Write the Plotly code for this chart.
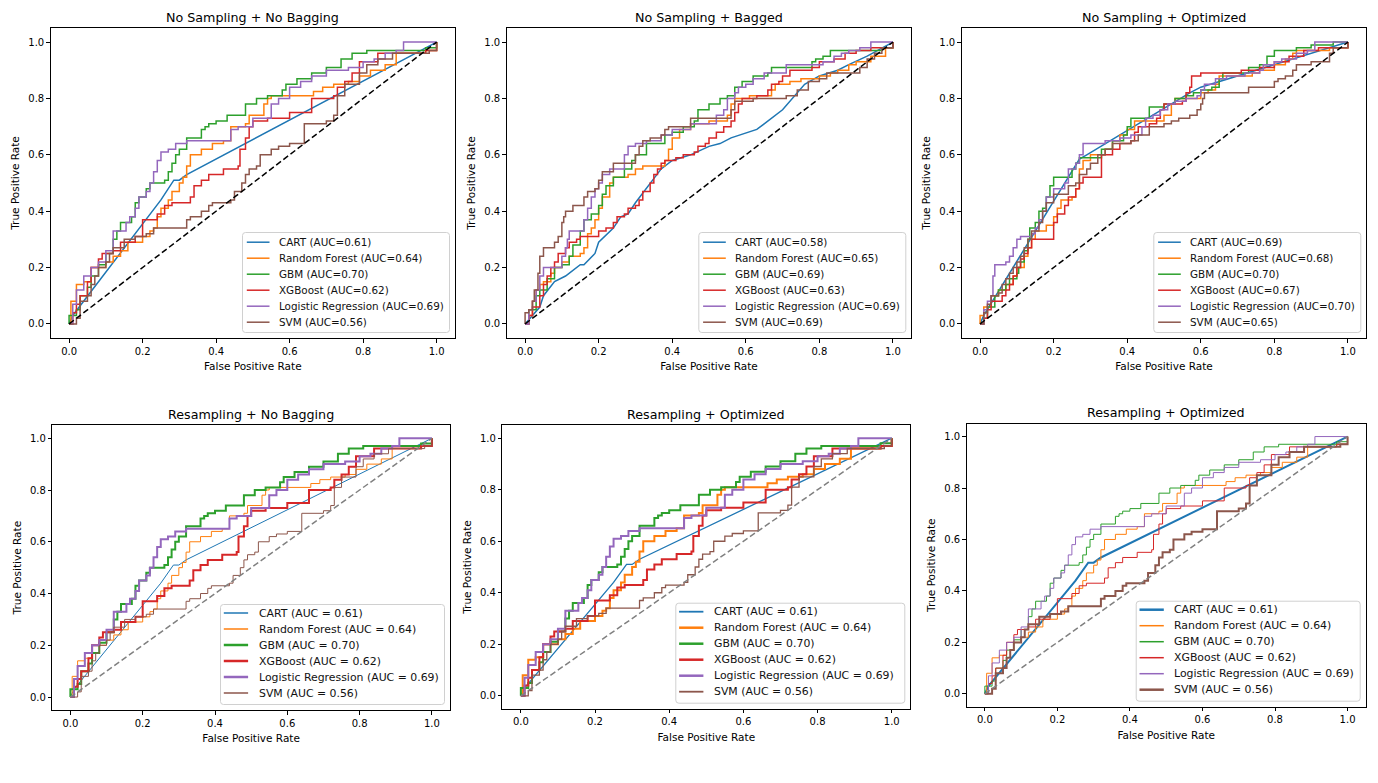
import plotly.graph_objects as go
from plotly.subplots import make_subplots

# ---------------- data ----------------
models = ["CART", "Random Forest", "GBM", "XGBoost", "Logistic Regression", "SVM"]
panel_titles = ["No Sampling + No Bagging", "No Sampling + Bagged", "No Sampling + Optimized",
                "Resampling + No Bagging", "Resampling + Optimized", "Resampling + Optimized"]
auc_nosamp_nobag = [0.61, 0.64, 0.70, 0.62, 0.69, 0.56]
auc_nosamp_bagged = [0.58, 0.65, 0.69, 0.63, 0.69, 0.69]
auc_nosamp_opt = [0.69, 0.68, 0.70, 0.67, 0.70, 0.65]
auc_resamp_nobag = [0.61, 0.64, 0.70, 0.62, 0.69, 0.56]
auc_resamp_opt_a = [0.61, 0.64, 0.70, 0.62, 0.69, 0.56]
auc_resamp_opt_b = [0.61, 0.64, 0.70, 0.62, 0.69, 0.56]
tick_vals = [0.0, 0.2, 0.4, 0.6, 0.8, 1.0]
tick_labels = ["0.0", "0.2", "0.4", "0.6", "0.8", "1.0"]

# Panel 1: No Sampling + No Bagging (curves reused by the resampling panels)
p1_cart_fpr = [0, 0.01, 0.25, 0.26, 0.285, 0.30, 0.32, 1.0]
p1_cart_tpr = [0, 0.03, 0.44, 0.46, 0.51, 0.51, 0.53, 1.0]
p1_rf_fpr = [0, 0.005, 0.02, 0.04, 0.06, 0.1, 0.12, 0.14, 0.16, 0.2, 0.22, 0.23, 0.24, 0.25, 0.27, 0.28, 0.30, 0.31, 0.32, 0.33,
             0.36, 0.39, 0.42, 0.44, 0.48, 0.49, 0.53, 0.54, 0.55, 0.665, 0.69, 0.72, 0.76, 0.79, 0.82, 0.86, 0.89, 0.97, 1.0]
p1_rf_tpr = [0, 0.08, 0.14, 0.15, 0.20, 0.22, 0.24, 0.26, 0.29, 0.31, 0.33, 0.34, 0.38, 0.41, 0.44, 0.47, 0.50, 0.52, 0.56, 0.60,
             0.62, 0.64, 0.65, 0.70, 0.71, 0.74, 0.78, 0.80, 0.81, 0.825, 0.84, 0.85, 0.86, 0.88, 0.90, 0.92, 0.96, 0.97, 1.0]
p1_gbm_fpr = [0, 0.0, 0.02, 0.03, 0.05, 0.06, 0.08, 0.1, 0.12, 0.13, 0.14, 0.17, 0.18, 0.19, 0.21, 0.22, 0.26, 0.27, 0.28, 0.29,
              0.30, 0.32, 0.36, 0.37, 0.38, 0.40, 0.43, 0.48, 0.51, 0.54, 0.58, 0.59, 0.62, 0.66, 0.70, 0.74, 0.77, 0.81, 0.97, 1.0]
p1_gbm_tpr = [0, 0.03, 0.05, 0.10, 0.13, 0.17, 0.21, 0.25, 0.30, 0.33, 0.36, 0.38, 0.43, 0.45, 0.48, 0.50, 0.51, 0.54, 0.57, 0.60,
              0.62, 0.66, 0.69, 0.70, 0.71, 0.72, 0.74, 0.78, 0.80, 0.81, 0.83, 0.85, 0.87, 0.89, 0.91, 0.94, 0.96, 0.97, 0.98, 1.0]
p1_xgb_fpr = [0, 0.01, 0.02, 0.03, 0.05, 0.06, 0.08, 0.09, 0.12, 0.14, 0.18, 0.20, 0.24, 0.26, 0.28, 0.33, 0.34, 0.36, 0.38, 0.42,
              0.46, 0.465, 0.48, 0.49, 0.50, 0.54, 0.60, 0.66, 0.72, 0.73, 0.75, 0.77, 0.79, 0.84, 0.97, 1.0]
p1_xgb_tpr = [0, 0.04, 0.07, 0.10, 0.15, 0.20, 0.23, 0.25, 0.26, 0.29, 0.31, 0.37, 0.39, 0.42, 0.43, 0.45, 0.49, 0.51, 0.53, 0.55,
              0.56, 0.62, 0.66, 0.70, 0.72, 0.73, 0.75, 0.80, 0.81, 0.84, 0.86, 0.89, 0.93, 0.96, 0.97, 1.0]
p1_lr_fpr = [0, 0.01, 0.02, 0.04, 0.06, 0.08, 0.1, 0.12, 0.155, 0.165, 0.18, 0.19, 0.21, 0.22, 0.23, 0.24, 0.25, 0.27, 0.29, 0.32,
             0.44, 0.46, 0.50, 0.55, 0.57, 0.60, 0.63, 0.66, 0.70, 0.76, 0.80, 0.83, 0.86, 0.89, 0.91, 1.0]
p1_lr_tpr = [0, 0.07, 0.12, 0.17, 0.20, 0.22, 0.26, 0.33, 0.36, 0.38, 0.41, 0.45, 0.47, 0.50, 0.54, 0.58, 0.61, 0.62, 0.64, 0.65,
             0.69, 0.70, 0.73, 0.78, 0.80, 0.84, 0.86, 0.88, 0.90, 0.91, 0.93, 0.94, 0.96, 0.97, 1.0, 1.0]
p1_svm_fpr = [0, 0.01, 0.02, 0.03, 0.05, 0.06, 0.07, 0.08, 0.10, 0.11, 0.12, 0.15, 0.18, 0.21, 0.23, 0.32, 0.33, 0.36, 0.38, 0.39,
              0.44, 0.45, 0.47, 0.48, 0.49, 0.51, 0.52, 0.55, 0.57, 0.60, 0.64, 0.70, 0.72, 0.73, 0.75, 0.79, 0.81, 0.84, 0.88, 0.98, 1.0]
p1_svm_tpr = [0, 0.0, 0.02, 0.08, 0.10, 0.14, 0.17, 0.20, 0.22, 0.25, 0.27, 0.30, 0.31, 0.32, 0.34, 0.37, 0.38, 0.40, 0.42, 0.43,
              0.44, 0.47, 0.50, 0.53, 0.55, 0.56, 0.60, 0.62, 0.63, 0.64, 0.71, 0.72, 0.74, 0.81, 0.85, 0.89, 0.92, 0.94, 0.96, 0.97, 1.0]

# Panel 2: No Sampling + Bagged
p2_cart_fpr = [0, 0.02, 0.04, 0.05, 0.08, 0.11, 0.15, 0.16, 0.19, 0.20, 0.24, 0.26, 0.28, 0.30, 0.34, 0.37, 0.40, 0.45, 0.50, 0.53,
               0.56, 0.61, 0.63, 0.65, 0.70, 0.76, 0.80, 0.85, 0.88, 0.93, 1.0]
p2_cart_tpr = [0, 0.03, 0.06, 0.10, 0.15, 0.17, 0.21, 0.21, 0.25, 0.29, 0.34, 0.38, 0.39, 0.43, 0.50, 0.55, 0.58, 0.60, 0.63, 0.64,
               0.66, 0.68, 0.69, 0.71, 0.76, 0.85, 0.88, 0.90, 0.92, 0.95, 1.0]
p2_rf_fpr = [0, 0.01, 0.02, 0.03, 0.04, 0.05, 0.07, 0.08, 0.10, 0.12, 0.15, 0.16, 0.17, 0.18, 0.19, 0.20, 0.21, 0.23, 0.24, 0.28,
             0.30, 0.32, 0.38, 0.39, 0.40, 0.42, 0.45, 0.50, 0.55, 0.56, 0.57, 0.61, 0.67, 0.68, 0.72, 0.75, 0.80, 0.83, 0.85, 0.88,
             0.90, 0.94, 0.98, 1.0]
p2_rf_tpr = [0, 0.03, 0.08, 0.12, 0.14, 0.15, 0.18, 0.20, 0.22, 0.24, 0.25, 0.27, 0.32, 0.34, 0.37, 0.41, 0.45, 0.50, 0.52, 0.53,
             0.55, 0.56, 0.58, 0.62, 0.66, 0.69, 0.71, 0.72, 0.74, 0.78, 0.80, 0.81, 0.83, 0.85, 0.86, 0.87, 0.88, 0.89, 0.90, 0.92,
             0.93, 0.95, 0.98, 1.0]
p2_gbm_fpr = [0, 0.01, 0.03, 0.04, 0.06, 0.08, 0.10, 0.12, 0.13, 0.15, 0.16, 0.18, 0.20, 0.21, 0.22, 0.24, 0.27, 0.29, 0.30, 0.33,
              0.38, 0.40, 0.43, 0.46, 0.47, 0.50, 0.53, 0.55, 0.57, 0.59, 0.62, 0.66, 0.67, 0.78, 0.79, 0.81, 0.83, 0.97, 1.0]
p2_gbm_tpr = [0, 0.05, 0.10, 0.12, 0.16, 0.20, 0.21, 0.24, 0.28, 0.33, 0.37, 0.39, 0.42, 0.46, 0.49, 0.52, 0.55, 0.58, 0.60, 0.64,
              0.67, 0.68, 0.70, 0.72, 0.76, 0.78, 0.80, 0.81, 0.84, 0.86, 0.88, 0.89, 0.91, 0.93, 0.94, 0.95, 0.97, 0.98, 1.0]
p2_xgb_fpr = [0, 0.01, 0.02, 0.04, 0.05, 0.06, 0.07, 0.08, 0.09, 0.11, 0.12, 0.14, 0.15, 0.20, 0.22, 0.24, 0.25, 0.27, 0.28, 0.30,
              0.31, 0.32, 0.34, 0.35, 0.36, 0.37, 0.38, 0.41, 0.43, 0.46, 0.47, 0.49, 0.50, 0.52, 0.54, 0.56, 0.57, 0.58, 0.59, 0.63,
              0.66, 0.67, 0.69, 0.70, 0.72, 0.78, 0.80, 0.84, 0.87, 0.90, 0.94, 1.0]
p2_xgb_tpr = [0, 0.03, 0.06, 0.10, 0.14, 0.17, 0.20, 0.22, 0.25, 0.27, 0.29, 0.30, 0.31, 0.33, 0.34, 0.36, 0.38, 0.39, 0.41, 0.42,
              0.44, 0.47, 0.50, 0.53, 0.55, 0.57, 0.58, 0.59, 0.60, 0.61, 0.63, 0.64, 0.66, 0.68, 0.70, 0.72, 0.75, 0.78, 0.80, 0.81,
              0.83, 0.85, 0.86, 0.88, 0.90, 0.91, 0.93, 0.94, 0.96, 0.97, 0.98, 1.0]
p2_lr_fpr = [0, 0.01, 0.02, 0.03, 0.04, 0.05, 0.10, 0.11, 0.115, 0.12, 0.16, 0.17, 0.18, 0.19, 0.20, 0.21, 0.23, 0.27, 0.28, 0.30,
             0.33, 0.37, 0.40, 0.45, 0.52, 0.54, 0.55, 0.57, 0.58, 0.60, 0.62, 0.65, 0.71, 0.81, 0.84, 0.86, 0.88, 0.91, 0.94, 1.0]
p2_lr_tpr = [0, 0.05, 0.08, 0.12, 0.17, 0.20, 0.24, 0.27, 0.30, 0.33, 0.37, 0.41, 0.45, 0.48, 0.50, 0.53, 0.55, 0.60, 0.63, 0.64,
             0.65, 0.67, 0.69, 0.71, 0.74, 0.76, 0.80, 0.82, 0.84, 0.85, 0.87, 0.89, 0.92, 0.93, 0.95, 0.96, 0.97, 0.98, 1.0, 1.0]
p2_svm_fpr = [0, 0.0, 0.01, 0.02, 0.025, 0.035, 0.04, 0.05, 0.08, 0.09, 0.10, 0.105, 0.11, 0.13, 0.16, 0.17, 0.19, 0.20, 0.21, 0.24,
              0.30, 0.31, 0.32, 0.34, 0.37, 0.38, 0.39, 0.45, 0.56, 0.57, 0.62, 0.71, 0.74, 0.77, 0.80, 0.82, 0.91, 0.93, 0.95, 0.97, 1.0]
p2_svm_tpr = [0, 0.04, 0.05, 0.08, 0.12, 0.18, 0.24, 0.27, 0.29, 0.31, 0.36, 0.38, 0.40, 0.42, 0.45, 0.47, 0.48, 0.51, 0.54, 0.57,
              0.60, 0.63, 0.65, 0.66, 0.67, 0.69, 0.70, 0.73, 0.76, 0.79, 0.80, 0.81, 0.83, 0.86, 0.87, 0.89, 0.91, 0.94, 0.96, 0.98, 1.0]

# Panel 3: No Sampling + Optimized
p3_cart_fpr = [0, 0.01, 0.27, 0.29, 0.57, 0.60, 1.0]
p3_cart_tpr = [0, 0.03, 0.585, 0.60, 0.82, 0.84, 1.0]
p3_rf_fpr = [0, 0.0, 0.01, 0.03, 0.05, 0.07, 0.09, 0.10, 0.12, 0.13, 0.14, 0.15, 0.18, 0.20, 0.21, 0.22, 0.25, 0.26, 0.27, 0.28,
             0.30, 0.33, 0.34, 0.36, 0.38, 0.40, 0.42, 0.47, 0.50, 0.52, 0.53, 0.58, 0.60, 0.62, 0.64, 0.65, 0.73, 0.74, 0.76, 0.80,
             0.83, 0.85, 0.86, 0.95, 1.0]
p3_rf_tpr = [0, 0.03, 0.06, 0.10, 0.12, 0.14, 0.17, 0.20, 0.24, 0.27, 0.30, 0.33, 0.35, 0.38, 0.41, 0.44, 0.45, 0.48, 0.55, 0.58,
             0.60, 0.60, 0.62, 0.65, 0.67, 0.69, 0.72, 0.72, 0.74, 0.78, 0.80, 0.80, 0.82, 0.83, 0.85, 0.88, 0.88, 0.89, 0.90, 0.92,
             0.94, 0.96, 0.97, 0.98, 1.0]
p3_gbm_fpr = [0, 0.01, 0.02, 0.04, 0.05, 0.07, 0.08, 0.10, 0.105, 0.11, 0.12, 0.13, 0.135, 0.15, 0.16, 0.17, 0.18, 0.19, 0.20, 0.25,
              0.26, 0.27, 0.33, 0.36, 0.39, 0.40, 0.41, 0.46, 0.50, 0.53, 0.56, 0.58, 0.60, 0.63, 0.65, 0.66, 0.73, 0.76, 0.78, 0.80,
              0.86, 0.90, 0.96, 1.0]
p3_gbm_tpr = [0, 0.02, 0.06, 0.10, 0.12, 0.14, 0.16, 0.18, 0.20, 0.22, 0.26, 0.30, 0.34, 0.36, 0.40, 0.41, 0.45, 0.49, 0.52, 0.55,
              0.57, 0.59, 0.62, 0.65, 0.67, 0.70, 0.73, 0.77, 0.78, 0.80, 0.81, 0.82, 0.83, 0.84, 0.87, 0.89, 0.91, 0.92, 0.95, 0.97,
              0.98, 0.99, 1.0, 1.0]
p3_xgb_fpr = [0, 0.01, 0.02, 0.03, 0.06, 0.07, 0.08, 0.09, 0.10, 0.11, 0.12, 0.13, 0.14, 0.19, 0.20, 0.21, 0.23, 0.24, 0.26, 0.27,
              0.28, 0.32, 0.33, 0.36, 0.38, 0.41, 0.42, 0.43, 0.46, 0.48, 0.49, 0.50, 0.55, 0.56, 0.57, 0.575, 0.60, 0.71, 0.76, 0.80,
              0.84, 0.88, 0.92, 0.97, 1.0]
p3_xgb_tpr = [0, 0.02, 0.05, 0.08, 0.10, 0.12, 0.14, 0.17, 0.20, 0.23, 0.25, 0.27, 0.30, 0.30, 0.36, 0.39, 0.42, 0.45, 0.48, 0.50,
              0.52, 0.52, 0.60, 0.62, 0.64, 0.65, 0.68, 0.70, 0.71, 0.73, 0.76, 0.78, 0.79, 0.82, 0.84, 0.88, 0.89, 0.90, 0.91, 0.93,
              0.95, 0.97, 0.98, 0.98, 1.0]
p3_lr_fpr = [0, 0.01, 0.02, 0.03, 0.035, 0.04, 0.07, 0.08, 0.09, 0.10, 0.11, 0.14, 0.15, 0.16, 0.17, 0.18, 0.20, 0.23, 0.24, 0.26,
             0.27, 0.28, 0.34, 0.38, 0.41, 0.44, 0.45, 0.47, 0.49, 0.51, 0.53, 0.56, 0.59, 0.60, 0.61, 0.64, 0.67, 0.72, 0.76, 0.77,
             0.80, 0.82, 0.86, 0.89, 0.91, 1.0]
p3_lr_tpr = [0, 0.05, 0.08, 0.10, 0.17, 0.21, 0.22, 0.24, 0.27, 0.30, 0.31, 0.32, 0.34, 0.37, 0.40, 0.45, 0.48, 0.50, 0.55, 0.57,
             0.60, 0.64, 0.65, 0.66, 0.67, 0.70, 0.73, 0.74, 0.76, 0.78, 0.79, 0.80, 0.81, 0.83, 0.85, 0.87, 0.88, 0.89, 0.90, 0.92,
             0.93, 0.94, 0.96, 0.97, 1.0, 1.0]
p3_svm_fpr = [0, 0.01, 0.02, 0.03, 0.05, 0.06, 0.07, 0.08, 0.09, 0.10, 0.11, 0.12, 0.13, 0.14, 0.16, 0.17, 0.18, 0.20, 0.24, 0.26,
              0.27, 0.29, 0.30, 0.32, 0.34, 0.36, 0.41, 0.43, 0.46, 0.50, 0.52, 0.54, 0.57, 0.59, 0.60, 0.605, 0.61, 0.73, 0.80, 0.81,
              0.83, 0.85, 0.86, 0.90, 0.95, 0.96, 1.0]
p3_svm_tpr = [0, 0.04, 0.07, 0.10, 0.11, 0.14, 0.16, 0.18, 0.20, 0.22, 0.24, 0.27, 0.30, 0.33, 0.36, 0.40, 0.43, 0.46, 0.49, 0.50,
              0.53, 0.55, 0.57, 0.60, 0.62, 0.64, 0.65, 0.67, 0.70, 0.71, 0.72, 0.73, 0.74, 0.76, 0.78, 0.80, 0.82, 0.84, 0.86, 0.87,
              0.88, 0.90, 0.92, 0.93, 0.96, 0.98, 1.0]

# ---------------- assemble ----------------
p1_curves = [(p1_cart_fpr, p1_cart_tpr), (p1_rf_fpr, p1_rf_tpr), (p1_gbm_fpr, p1_gbm_tpr),
             (p1_xgb_fpr, p1_xgb_tpr), (p1_lr_fpr, p1_lr_tpr), (p1_svm_fpr, p1_svm_tpr)]
p2_curves = [(p2_cart_fpr, p2_cart_tpr), (p2_rf_fpr, p2_rf_tpr), (p2_gbm_fpr, p2_gbm_tpr),
             (p2_xgb_fpr, p2_xgb_tpr), (p2_lr_fpr, p2_lr_tpr), (p2_svm_fpr, p2_svm_tpr)]
p3_curves = [(p3_cart_fpr, p3_cart_tpr), (p3_rf_fpr, p3_rf_tpr), (p3_gbm_fpr, p3_gbm_tpr),
             (p3_xgb_fpr, p3_xgb_tpr), (p3_lr_fpr, p3_lr_tpr), (p3_svm_fpr, p3_svm_tpr)]
panel_curves = [p1_curves, p2_curves, p3_curves, p1_curves, p1_curves, p1_curves]
panel_aucs = [auc_nosamp_nobag, auc_nosamp_bagged, auc_nosamp_opt,
              auc_resamp_nobag, auc_resamp_opt_a, auc_resamp_opt_b]

COLORS = ["#1f77b4", "#ff7f0e", "#2ca02c", "#d62728", "#9467bd", "#8c564b"]
W, H = 1378, 783
FONT = "DejaVu Sans"

# frame boxes in pixels: (left, right, top, bottom)
boxes = [(50.7, 455.0, 28.0, 338.0), (506.7, 911.3, 28.0, 338.0), (961.7, 1366.3, 28.0, 338.0),
         (52.3, 450.0, 425.3, 710.0), (502.3, 910.3, 425.3, 708.7), (966.7, 1365.7, 423.7, 706.7)]
legend_w = [207, 207, 207, 224, 229, 224]
widths = [[1.5] * 6, [1.5] * 6, [1.5] * 6,
          [1.0, 1.0, 2.0, 2.0, 2.0, 1.0],
          [1.3, 2.0, 2.0, 2.0, 2.0, 1.3],
          [2.0, 1.0, 1.0, 1.0, 1.0, 2.0]]


def px(x):
    return x / W


def py(y):
    return 1 - y / H


fig = make_subplots(rows=2, cols=3)
annotations = []
shapes = []
for p in range(6):
    row, col = p // 3 + 1, p % 3 + 1
    top_row = p < 3
    for m in range(6):
        fpr, tpr = panel_curves[p][m]
        fig.add_trace(go.Scatter(
            x=fpr, y=tpr, mode="lines", showlegend=False, hoverinfo="skip",
            line=dict(color=COLORS[m], width=widths[p][m], shape="linear" if m == 0 else "hv")),
            row=row, col=col)
    fig.add_trace(go.Scatter(
        x=[0, 1], y=[0, 1], mode="lines", showlegend=False, hoverinfo="skip",
        line=dict(color="black" if top_row else "#808080", width=1.5, dash="6px,3px")),
        row=row, col=col)

    l, r, t, b = boxes[p]
    axis_common = dict(range=[-0.05, 1.05], tickvals=tick_vals, ticktext=tick_labels,
                       showline=True, mirror=True, linecolor="black", linewidth=1,
                       ticks="outside", ticklen=3.5, tickwidth=0.8, tickcolor="black",
                       showgrid=False, zeroline=False,
                       tickfont=dict(family=FONT, size=10, color="black"))
    fig.update_xaxes(domain=[px(l), px(r)],
                     title=dict(text="False Positive Rate", standoff=7,
                                font=dict(family=FONT, size=10.5, color="black")),
                     row=row, col=col, **axis_common)
    fig.update_yaxes(domain=[py(b), py(t)],
                     title=dict(text="True Positive Rate", standoff=6,
                                font=dict(family=FONT, size=10.5, color="black")),
                     row=row, col=col, **axis_common)

    # legend box (matplotlib-style, drawn in page pixels)
    lb_r = r - 5.5
    lb_b = b - 5.5
    lb_l = lb_r - legend_w[p]
    lb_t = lb_b - 100
    rad = 3
    path = ("M {a},{b} L {c},{b} Q {d},{b} {d},{e} L {d},{f} Q {d},{g} {c},{g} "
            "L {a},{g} Q {h},{g} {h},{f} L {h},{e} Q {h},{b} {a},{b} Z").format(
        a=px(lb_l + rad), b=py(lb_t), c=px(lb_r - rad), d=px(lb_r), e=py(lb_t + rad),
        f=py(lb_b - rad), g=py(lb_b), h=px(lb_l))
    shapes.append(dict(type="path", path=path, xref="paper", yref="paper", layer="above",
                       fillcolor="rgba(255,255,255,0.85)", line=dict(color="#d0d0d0", width=1)))
    first = 9.7 if top_row else 8.5
    x0s, x1s, xt = (4.3, 27.0, 34.0) if top_row else (3.3, 27.6, 36.0)
    fsize = 10.4 if top_row else 10.9
    for m in range(6):
        yc = lb_t + first + 16 * m
        shapes.append(dict(type="line", xref="paper", yref="paper", layer="above",
                           x0=px(lb_l + x0s), x1=px(lb_l + x1s), y0=py(yc), y1=py(yc),
                           line=dict(color=COLORS[m], width=max(widths[p][m], 1.5) if top_row else widths[p][m] + 0.5)))
        label = ("%s (AUC=%.2f)" if top_row else "%s (AUC = %.2f)") % (models[m], panel_aucs[p][m])
        annotations.append(dict(text=label, x=px(lb_l + xt), y=py(yc), xref="paper", yref="paper",
                                showarrow=False, xanchor="left", yanchor="middle",
                                font=dict(family=FONT, size=fsize, color="#111111")))

    annotations.append(dict(text=panel_titles[p], x=px((l + r) / 2), y=py(t - 11),
                            xref="paper", yref="paper", showarrow=False,
                            xanchor="center", yanchor="middle",
                            font=dict(family=FONT, size=12.7, color="black")))

fig.update_layout(width=W, height=H, margin=dict(l=0, r=0, t=0, b=0),
                  paper_bgcolor="white", plot_bgcolor="white", showlegend=False,
                  annotations=annotations, shapes=shapes, font=dict(family=FONT))

fig.write_html("out.html", config={"displayModeBar": False},
               post_script="document.body.style.margin='0';document.body.style.overflow='hidden';")
